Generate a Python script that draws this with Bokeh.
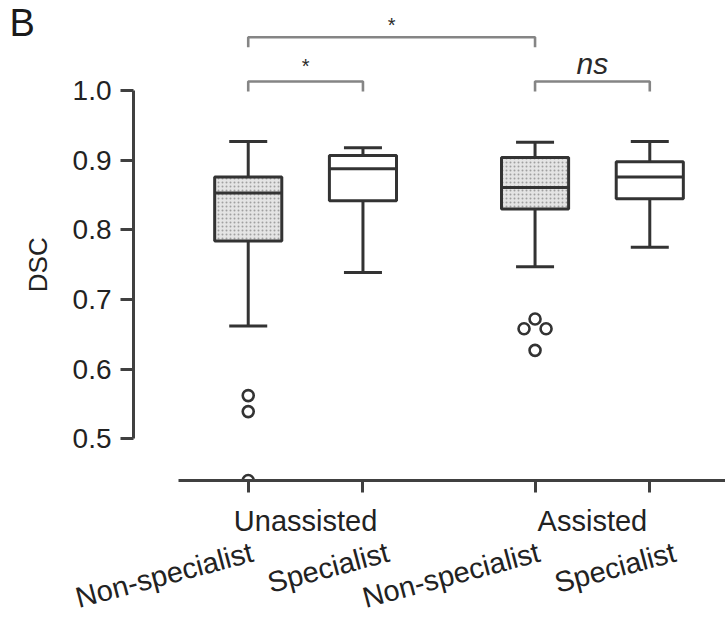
import math
from bokeh.plotting import figure
from bokeh.layouts import row
from bokeh.models import (Range1d, FixedTicker, LinearAxis, ColumnDataSource,
                          PrintfTickFormatter)
from bokeh.core.properties import value
from bokeh.embed import file_html
from bokeh.resources import INLINE

# ---------------- data ----------------
group_names = ["Unassisted", "Assisted"]
group_of_box = [0, 0, 1, 1]
categories = ["Non-specialist", "Specialist", "Non-specialist", "Specialist"]
whisker_low = [0.662, 0.739, 0.747, 0.775]
q1 = [0.784, 0.842, 0.830, 0.845]
median = [0.853, 0.888, 0.861, 0.876]
q3 = [0.876, 0.907, 0.904, 0.898]
whisker_high = [0.927, 0.918, 0.926, 0.927]
outlier_box = [0, 0, 0, 2, 2, 2, 2]
outlier_values = [0.562, 0.539, 0.440, 0.672, 0.658, 0.658, 0.627]
y_ticks = [0.5, 0.6, 0.7, 0.8, 0.9, 1.0]
comparisons = [(0, 1, "*", 0), (2, 3, "ns", 0), (0, 2, "*", 1)]
y_title = "DSC"
panel_letter = "B"

# ---------------- layout helpers ----------------
FONT = "Liberation Sans"
DARK = "#333333"
BOX_W = 0.585
GROUP_GAP = 0.5
LEFT_W = 60
positions = [1 + i + GROUP_GAP * g for i, g in enumerate(group_of_box)]
group_centers = [sum(p for p, g in zip(positions, group_of_box) if g == k) /
                 group_of_box.count(k) for k in range(len(group_names))]
outlier_dodge = [0, 0, 0, 0, -0.096, 0.096, 0]
label_shift = {"Non-specialist": 0.035, "Specialist": 0.22}

y_range = Range1d(0.44, 1.1297)

p = figure(width=725 - LEFT_W, height=634, output_backend="svg", toolbar_location=None,
           x_range=Range1d(0, 5.16), y_range=y_range,
           x_axis_type=None, y_axis_type=None,
           min_border_left=133 - LEFT_W, min_border_right=0, min_border_top=0,
           min_border_bottom=154, outline_line_color=None)
p.background_fill_color = "white"
p.border_fill_color = "white"

# y axis
yaxis = LinearAxis(ticker=FixedTicker(ticks=y_ticks), bounds=(0.5, 1.0),
                   formatter=PrintfTickFormatter(format="%.1f"))
yaxis.axis_line_width = 3
yaxis.axis_line_color = "#404040"
yaxis.major_tick_line_width = 3
yaxis.major_tick_line_color = "#404040"
yaxis.major_tick_out = 13
yaxis.major_tick_in = 0
yaxis.minor_tick_out = 0
yaxis.minor_tick_in = 0
yaxis.major_label_standoff = 9
yaxis.major_label_text_font = FONT
yaxis.major_label_text_font_size = "28px"
yaxis.major_label_text_color = "#222222"
p.add_layout(yaxis, "left")

# x axis: line, ticks (minor) at boxes, group names at group centers
xaxis = LinearAxis(ticker=FixedTicker(ticks=group_centers, minor_ticks=positions),
                   bounds=(0.39, 5.16))
xaxis.major_label_overrides = {c: n for c, n in zip(group_centers, group_names)}
xaxis.axis_line_width = 3
xaxis.axis_line_color = "#404040"
xaxis.major_tick_out = 0
xaxis.major_tick_in = 0
xaxis.minor_tick_out = 12
xaxis.minor_tick_in = 0
xaxis.minor_tick_line_width = 3
xaxis.minor_tick_line_color = "#404040"
xaxis.major_label_standoff = 12
xaxis.major_label_text_font = FONT
xaxis.major_label_text_font_size = "29px"
xaxis.major_label_text_color = "#222222"
p.add_layout(xaxis, "below")

# second x axis: tilted category names
cat_ticks = [pos + label_shift[c] for pos, c in zip(positions, categories)]
xaxis2 = LinearAxis(ticker=FixedTicker(ticks=cat_ticks))
xaxis2.major_label_overrides = {t: c for t, c in zip(cat_ticks, categories)}
xaxis2.axis_line_color = None
xaxis2.major_tick_line_color = None
xaxis2.minor_tick_line_color = None
xaxis2.major_label_orientation = 0.26
xaxis2.major_label_standoff = 6
xaxis2.major_label_text_font = FONT
xaxis2.major_label_text_font_size = "29px"
xaxis2.major_label_text_color = "#222222"
p.add_layout(xaxis2, "below")

# ---------------- boxes ----------------
is_ns = [c == "Non-specialist" for c in categories]
src = ColumnDataSource(dict(
    x=positions, lo=whisker_low, q1=q1, med=median, q3=q3, hi=whisker_high,
    x0=[x - BOX_W / 2 for x in positions], x1=[x + BOX_W / 2 for x in positions],
    fill=["#e4e4e4" if n else "white" for n in is_ns],
    hatch=["dot" if n else "blank" for n in is_ns],
))
p.segment(x0="x", y0="q3", x1="x", y1="hi", source=src, line_color=DARK, line_width=3)
p.segment(x0="x", y0="q1", x1="x", y1="lo", source=src, line_color=DARK, line_width=3)
p.vbar(x="x", width=BOX_W, bottom="q1", top="q3", source=src,
       fill_color="fill", hatch_pattern="hatch", hatch_color="#a0a0a0",
       hatch_scale=4, hatch_weight=1.0, line_color=DARK, line_width=3)
p.segment(x0="x0", y0="med", x1="x1", y1="med", source=src, line_color=DARK, line_width=3)
p.scatter(x="x", y="hi", source=src, marker="dash", size=38, line_color=DARK, line_width=3)
p.scatter(x="x", y="lo", source=src, marker="dash", size=38, line_color=DARK, line_width=3)

# outliers
osrc = ColumnDataSource(dict(
    x=[positions[b] + d for b, d in zip(outlier_box, outlier_dodge)],
    y=outlier_values))
p.scatter(x="x", y="y", source=osrc, marker="circle", size=11,
          fill_color="white", line_color=DARK, line_width=2.6)

# ---------------- significance brackets ----------------
LEVEL_Y = [1.0133, 1.077]
DROP = 0.0145
bx, by, tx, ty, tt, tst, tsz = [], [], [], [], [], [], []
for i, j, lab, lev in comparisons:
    y = LEVEL_Y[lev]
    xi, xj = positions[i], positions[j]
    bx.append([xi, xi, xj, xj])
    by.append([y - DROP, y, y, y - DROP])
    tx.append((xi + xj) / 2)
    ty.append(y + (0.026 if lab == "ns" else (0.018 if lev == 1 else 0.022)))
    tt.append(lab)
    tst.append("italic" if lab == "ns" else "normal")
    tsz.append("30px" if lab == "ns" else "20px")
p.multi_line(xs=bx, ys=by, line_color="#858585", line_width=2.6)
p.text(x=tx, y=ty, text=tt, text_font=value(FONT), text_font_style=tst,
       text_font_size=tsz, text_align="center", text_baseline="alphabetic",
       text_color="#2a2a2a")

# ---------------- left strip: panel letter and y title ----------------
q = figure(width=LEFT_W, height=634, output_backend="svg", toolbar_location=None,
           x_range=Range1d(0, LEFT_W), y_range=y_range,
           x_axis_type=None, y_axis_type=None,
           min_border_left=0, min_border_right=0, min_border_top=0,
           min_border_bottom=154, outline_line_color=None)
q.background_fill_color = "white"
q.border_fill_color = "white"
q.text(x=[9], y=[y_range.end - 0.0015], text=[panel_letter], text_font=value(FONT),
       text_font_size="38px", text_baseline="top", text_align="left",
       text_color="#1a1a1a")
q.text(x=[37], y=[sum(y_ticks) / len(y_ticks)], text=[y_title], angle=math.pi / 2,
       text_font=value(FONT), text_font_size="26px", text_baseline="middle",
       text_align="center", text_color="#222222")

layout = row(q, p, spacing=0)
open("out.html", "w").write(file_html(layout, INLINE))
